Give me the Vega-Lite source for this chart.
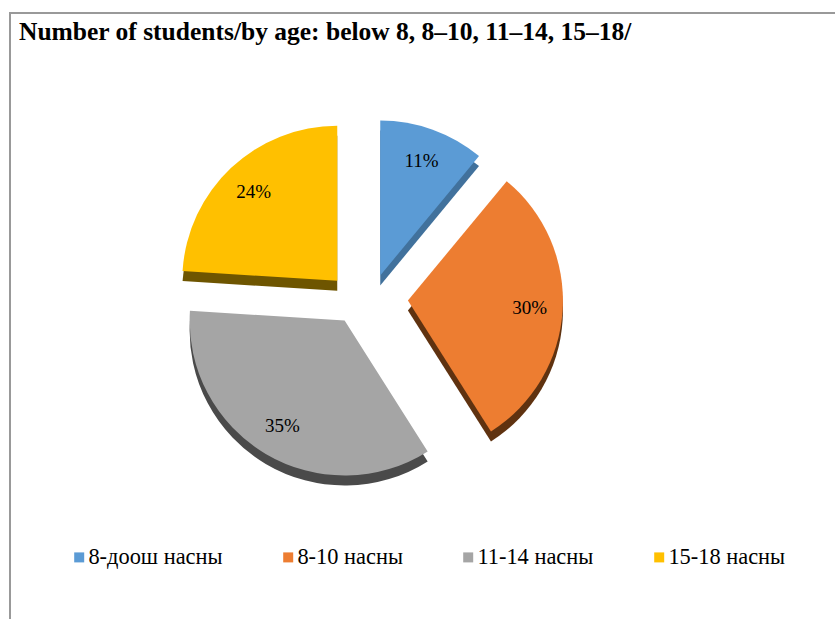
{
  "$schema": "https://vega.github.io/schema/vega-lite/v6.json",
  "width": 830,
  "height": 610,
  "autosize": "none",
  "padding": {"left": 10, "top": 13, "right": 0, "bottom": 0},
  "background": "white",
  "config": {
    "style": {"view": {"stroke": "#999999", "strokeWidth": 2}},
    "font": "Liberation Serif",
    "legend": {"labelFont": "Liberation Serif"}
  },
  "title": {
    "text": "Number of students/by age: below 8, 8–10, 11–14, 15–18/",
    "anchor": "start",
    "frame": "group",
    "orient": "top",
    "font": "Liberation Serif",
    "fontSize": 25.5,
    "fontWeight": "bold",
    "color": "#000000",
    "baseline": "alphabetic",
    "offset": -27,
    "dy": 25,
    "dx": 9
  },
  "data": {
    "values": [
      {"group": "8-доош насны", "pct": 0.11, "rank": 1},
      {"group": "8-10 насны", "pct": 0.30, "rank": 2},
      {"group": "11-14 насны", "pct": 0.35, "rank": 3},
      {"group": "15-18 насны", "pct": 0.24, "rank": 4}
    ]
  },
  "layer": [
    {
      "mark": {
        "type": "arc",
        "outerRadius": 155,
        "xOffset": {"expr": "-59 + 42*sin(scale('theta', (datum.pct_start + datum.pct_end)/2))"},
        "yOffset": {"expr": "-9 - 25*cos(scale('theta', (datum.pct_start + datum.pct_end)/2))"}
      },
      "encoding": {
        "theta": {"field": "pct", "type": "quantitative", "stack": true},
        "order": {"field": "rank", "type": "quantitative"},
        "color": {
          "field": "group",
          "type": "nominal",
          "scale": {
            "domain": ["8-доош насны", "8-10 насны", "11-14 насны", "15-18 насны"],
            "range": ["#41719c", "#5f3210", "#4a4a4a", "#6e5500"]
          },
          "legend": null
        }
      }
    },
    {
      "mark": {
        "type": "arc",
        "outerRadius": 155,
        "xOffset": {"expr": "-59 + 42*sin(scale('theta', (datum.pct_start + datum.pct_end)/2))"},
        "yOffset": {"expr": "-19 - 25*cos(scale('theta', (datum.pct_start + datum.pct_end)/2))"}
      },
      "encoding": {
        "theta": {"field": "pct", "type": "quantitative", "stack": true},
        "order": {"field": "rank", "type": "quantitative"},
        "color": {
          "field": "group",
          "type": "nominal",
          "scale": {
            "domain": ["8-доош насны", "8-10 насны", "11-14 насны", "15-18 насны"],
            "range": ["#5b9bd5", "#ed7d31", "#a5a5a5", "#ffc000"]
          },
          "legend": {
            "title": null,
            "orient": "none",
            "direction": "horizontal",
            "legendX": 58,
            "legendY": 533,
            "symbolType": "square",
            "symbolSize": 100,
            "symbolStrokeWidth": 0,
            "labelFont": "Liberation Serif",
            "labelFontSize": 22.4,
            "labelColor": "#000000",
            "labelOffset": -2,
            "columnPadding": 54,
            "labelLimit": 300
          }
        }
      }
    },
    {
      "mark": {
        "type": "text",
        "radius": 122,
        "font": "Liberation Serif",
        "fontSize": 19,
        "color": "#000000",
        "xOffset": {"expr": "-59 + 42*sin(scale('theta', (datum.pct_start + datum.pct_end)/2))"},
        "yOffset": {"expr": "-19 - 25*cos(scale('theta', (datum.pct_start + datum.pct_end)/2))"}
      },
      "encoding": {
        "theta": {"field": "pct", "type": "quantitative", "stack": true},
        "order": {"field": "rank", "type": "quantitative"},
        "text": {"field": "pct", "type": "quantitative", "format": ".0%"}
      }
    }
  ],
  "resolve": {"scale": {"color": "independent"}}
}
